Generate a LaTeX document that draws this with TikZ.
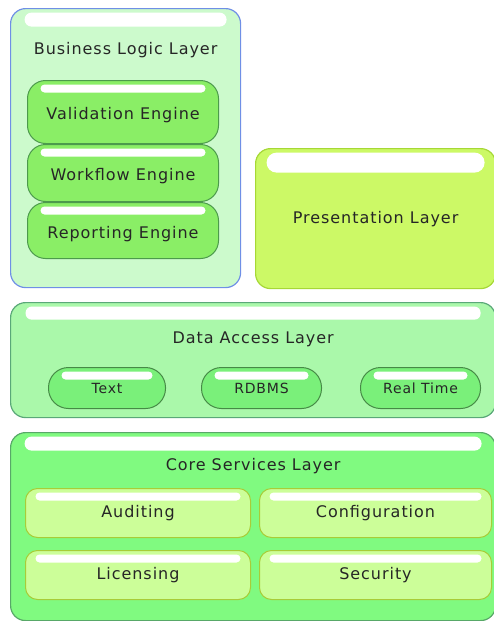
\documentclass[tikz,border=0pt]{standalone}
\usepackage{fontspec}
\setmainfont[LetterSpace=6]{DejaVu Sans}
\usetikzlibrary{positioning}

\definecolor{blfill}{HTML}{CCFACC}
\definecolor{blline}{HTML}{6F8FE6}
\definecolor{engfill}{HTML}{8AEE66}
\definecolor{engline}{HTML}{4C9A4C}
\definecolor{prfill}{HTML}{CCF966}
\definecolor{prline}{HTML}{A6D836}
\definecolor{dafill}{HTML}{AAF8AA}
\definecolor{daline}{HTML}{5AA878}
\definecolor{dsfill}{HTML}{7AF07A}
\definecolor{dsline}{HTML}{468A46}
\definecolor{csfill}{HTML}{80FA80}
\definecolor{csline}{HTML}{58A868}
\definecolor{cbfill}{HTML}{CCFE99}
\definecolor{cbline}{HTML}{A8CC38}
\definecolor{txt}{HTML}{262626}

\begin{document}
\begin{tikzpicture}[x=1pt,y=-1pt,
  gloss/.style n args={3}{path picture={\fill[white,rounded corners=#3]
    ([xshift=#1,yshift=-4pt]path picture bounding box.north west) rectangle
    ([xshift=-#1,yshift={-4pt-#2}]path picture bounding box.north east);}},
  layer/.style={draw,line width=1.2pt,rounded corners=15pt,anchor=north west,inner sep=0pt},
  title/.style={text=txt,font=\fontsize{16}{19}\selectfont,inner sep=0pt},
  engine/.style={draw=engline,fill=engfill,line width=1pt,rounded corners=18pt,minimum width=191pt,
    text height=19pt,text=txt,font=\fontsize{16}{19}\selectfont,gloss={13pt}{8pt}{4pt}},
  source/.style={draw=dsline,fill=dsfill,line width=1pt,rounded corners=20pt,minimum height=41pt,
    text=txt,font=\fontsize{14}{17}\selectfont,gloss={13pt}{8pt}{4pt}},
  service/.style={draw=cbline,fill=cbfill,line width=1pt,rounded corners=12pt,minimum height=49pt,
    text=txt,font=\fontsize{16}{19}\selectfont,gloss={10pt}{8pt}{4pt}}]

\useasboundingbox (0,0) rectangle (493,621);

% Business logic
\node [layer,draw=blline,fill=blfill,minimum width=230pt,minimum height=279pt,gloss={14pt}{14pt}{7pt}] (bll) at (10,8) {};
\node [title] (bllt) at ([yshift=-42pt]bll.north) {Business Logic Layer};
\node [engine,anchor=north west,minimum height=63pt] (val) at (27,80) {Validation Engine};
\node [engine,below=0pt of val,minimum height=57pt] (wfe) {Workflow Engine};
\node [engine,below=0pt of wfe,minimum height=56pt] (rep) {Reporting Engine};

% Presentation
\node [layer,draw=prline,fill=prfill,minimum width=240pt,minimum height=140pt,gloss={11pt}{20pt}{10pt},
  text=txt,font=\fontsize{16}{19}\selectfont] (pres) at (255,148) {Presentation Layer};

% Data access
\node [layer,draw=daline,fill=dafill,minimum width=485pt,minimum height=115pt,gloss={15pt}{13pt}{6pt}] (dal) at (10,302) {};
\node [title] (dalt) at ([yshift=-37pt]dal.north) {Data Access Layer};
\node [source,anchor=north west,minimum width=117pt] (txtsrc) at (48,367) {Text};
\node [source,right=35pt of txtsrc,minimum width=120pt] (rdbms) {RDBMS};
\node [source,right=38pt of rdbms,minimum width=120pt] (rt) {Real Time};

% Core services
\node [layer,draw=csline,fill=csfill,minimum width=485pt,minimum height=188pt,gloss={14pt}{14pt}{7pt}] (csl) at (10,432) {};
\node [title] (cslt) at ([yshift=-34pt]csl.north) {Core Services Layer};
\node [service,anchor=north west,minimum width=225pt] (aud) at (25,488) {Auditing};
\node [service,right=8pt of aud,minimum width=232pt] (conf) {Configuration};
\node [service,below=12pt of aud,minimum width=225pt] (lic) {Licensing};
\node [service,below=12pt of conf,minimum width=232pt] (sec) {Security};

\end{tikzpicture}
\end{document}
